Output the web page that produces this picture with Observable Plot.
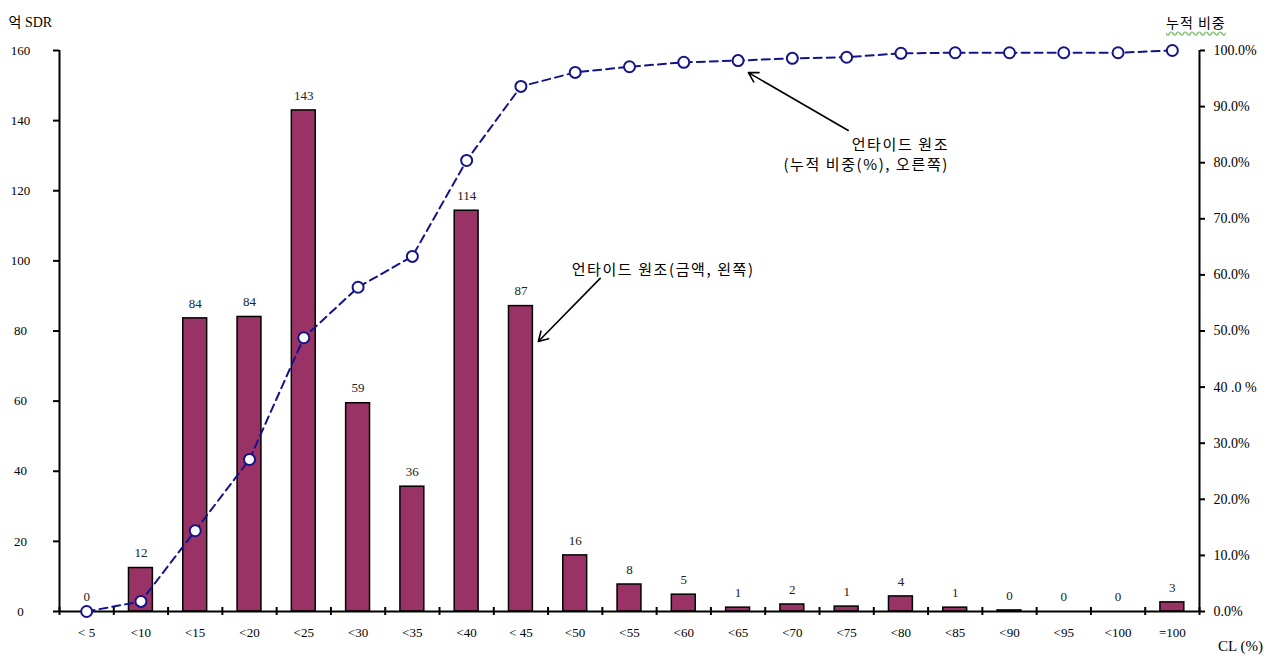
<!DOCTYPE html>
<html>
<head>
<meta charset="utf-8">
<script src="https://cdn.jsdelivr.net/npm/d3@7"></script>
<script src="https://cdn.jsdelivr.net/npm/@observablehq/plot@0.6"></script>
<style>
  html, body { margin: 0; padding: 0; background: #fff; }
  #wrap { position: relative; width: 1275px; height: 659px; }
  #rtitle {
    position: absolute; left: 1166px; top: 12px;
    font-family: "Noto Sans CJK KR", sans-serif; font-size: 14px; color: #000; letter-spacing: 1px;
    text-decoration: underline wavy #7fbf6f; text-underline-offset: 3px;
  }
</style>
</head>
<body>
<div id="wrap"><div id="rtitle">누적 비중</div></div>
<script>
const categories = ["< 5","<10","<15","<20","<25","<30","<35","<40","< 45","<50","<55","<60","<65","<70","<75","<80","<85","<90","<95","<100","=100"];
const amounts = [0, 12.4, 83.6, 84.0, 142.9, 59.4, 35.6, 114.3, 87.1, 16.0, 7.7, 4.8, 1.1, 2.0, 1.4, 4.3, 1.1, 0.3, 0, 0, 2.6];
const amountLabels = ["0","12","84","84","143","59","36","114","87","16","8","5","1","2","1","4","1","0","0","0","3"];
const cumulativePct = [0, 1.8, 14.4, 27.1, 48.8, 57.8, 63.3, 80.4, 93.6, 96.1, 97.1, 97.9, 98.2, 98.6, 98.8, 99.5, 99.6, 99.6, 99.6, 99.6, 100];
const leftTicks = [0, 20, 40, 60, 80, 100, 120, 140, 160];
const rightTickValues = [0, 10, 20, 30, 40, 50, 60, 70, 80, 90, 100];
const rightTickLabels = ["0.0%","10.0%","20.0%","30.0%","40 .0 %","50.0%","60.0%","70.0%","80.0%","90.0%","100.0%"];
const leftMax = 160, rightMax = 100;
const ratio = leftMax / rightMax;

const annoArrows = [
  {x1: 9.46, y1: 95.0, x2: 8.32, y2: 77.0},
  {x1: 14.03, y1: 137.2, x2: 12.19, y2: 153.7}
];
const annoTexts = [
  {x: 10.62, y: 97.3, text: "언타이드 원조(금액, 왼쪽)"},
  {x: 14.99, y: 132.9, text: "언타이드 원조"},
  {x: 14.36, y: 127.2, text: "(누적 비중(%), 오른쪽)"}
];

const rows = categories.map((c, i) => ({
  i, c, amount: amounts[i], label: amountLabels[i], cumLeft: cumulativePct[i] * ratio
}));
const boundaries = d3.range(categories.length + 1).map(k => k - 0.5);
const lineColor = "#14148a";

const chart = Plot.plot({
  width: 1275, height: 659,
  marginLeft: 59, marginRight: 76, marginTop: 50, marginBottom: 48,
  x: {domain: [-0.5, categories.length - 0.5]},
  y: {domain: [0, leftMax]},
  style: {fontFamily: "'Liberation Serif', 'Noto Sans CJK KR', serif", fontSize: "13px", color: "#000", background: "#fff"},
  marks: [
    Plot.rectY(rows, {x1: d => d.i - 0.22, x2: d => d.i + 0.22, y1: 0, y2: "amount", fill: "#993366", stroke: "#000", strokeWidth: 1.5}),
    Plot.text(rows, {x: "i", y: "amount", text: "label", dy: -15, fill: "#222"}),
    Plot.ruleY([0], {stroke: "#000", strokeWidth: 2}),
    Plot.ruleX([boundaries[0], boundaries[boundaries.length - 1]], {stroke: "#000", strokeWidth: 2}),
    Plot.ruleX(boundaries, {y1: 0, y2: 0, insetTop: -4, insetBottom: -4, stroke: "#000", strokeWidth: 2}),
    Plot.axisY({ticks: leftTicks, tickSize: 6, tickPadding: 33, textAnchor: "middle", strokeWidth: 2, label: null}),
    Plot.axisY({anchor: "right", ticks: rightTickValues.map(v => v * ratio),
      tickFormat: d => rightTickLabels[rightTickValues.indexOf(Math.round(d / ratio))],
      tickSize: 5, tickPadding: 9, strokeWidth: 2, fontSize: 14, label: null}),
    Plot.axisX({ticks: rows.map(d => d.i), tickFormat: i => categories[i], tickSize: 0, tickPadding: 16, label: null}),
    Plot.line(rows, {x: "i", y: "cumLeft", stroke: lineColor, strokeWidth: 2, strokeDasharray: "8,5"}),
    Plot.dot(rows, {x: "i", y: "cumLeft", r: 5.5, fill: "#fff", stroke: lineColor, strokeWidth: 2}),
    Plot.arrow(annoArrows, {x1: "x1", y1: "y1", x2: "x2", y2: "y2", stroke: "#000", strokeWidth: 1.6, headLength: 10}),
    Plot.text(annoTexts, {x: "x", y: "y", text: "text", fontSize: 15, fontFamily: "'Noto Sans CJK KR', sans-serif"}),
    Plot.text(["억 SDR"], {frameAnchor: "top-left", dx: -51, dy: -33, textAnchor: "start", fontSize: 14}),
    Plot.text(["CL (%)"], {frameAnchor: "bottom-right", dx: 41, dy: 39, textAnchor: "middle", fontSize: 15})
  ]
});
const annoSet = new Set(annoTexts.map(d => d.text));
d3.select(chart).selectAll("text").filter(function() { return annoSet.has(this.textContent); })
  .style("letter-spacing", "1.6px");
document.getElementById("wrap").prepend(chart);
</script>
</body>
</html>
